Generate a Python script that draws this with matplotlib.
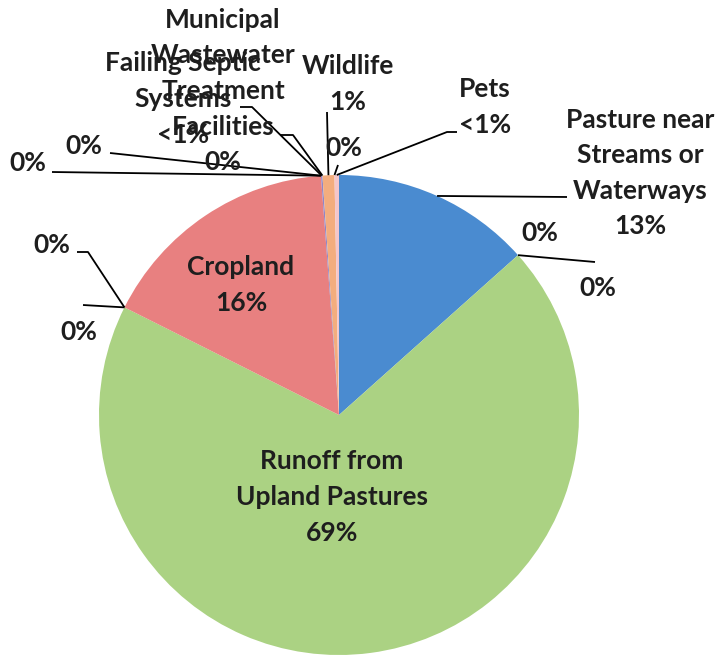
import matplotlib
matplotlib.use("Agg")
import matplotlib.pyplot as plt
import numpy as np

# Source shares (percent), listed clockwise from 12 o'clock
categories = [
    "Pasture near\nStreams or\nWaterways", "", "",
    "Runoff from\nUpland Pastures", "", "",
    "Cropland", "", "",
    "Failing Septic\nSystems",
    "Municipal\nWastewater\nTreatment\nFacilities",
    "Wildlife", "", "Pets",
]
shares = [13.4, 0, 0, 69.0, 0, 0, 16.4, 0, 0, 0.1, 0, 0.8, 0, 0.3]
pct_labels = ["13%", "0%", "0%", "69%", "0%", "0%", "16%", "0%", "0%",
              "<1%", "0%", "1%", "0%", "<1%"]
colors = ["#4A8BD0", "#A5C0E8", "#D0D8A0", "#ABD283", "#E8B0A8", "#C9A0A0",
          "#E88080", "#C0B0D8", "#90C8D8", "#8F86C8", "#F0C090", "#F3AD7E",
          "#B8C8E8", "#F4C6CB"]

W, H = 720, 659
CX, CY, R = 339, 415, 240

def P(x, y):
    """Pixel position measured from the top-left corner -> axes coords."""
    return x, H - y

# label centre and leader elbows (pixels from top-left); None = no leader
layout = [
    ((640, 173), [(567, 197)]),
    ((540, 233), None),
    ((598, 288), [(595, 262)]),
    ((332, 497), None),
    ((52, 245), [(77, 252), (88, 252)]),
    ((79, 332), [(83, 305), (100, 306)]),
    ((241, 285), None),
    ((28, 163), [(52, 172)]),
    ((84, 146), [(110, 153)]),
    ((183, 99), [(240, 107), (252, 107)]),
    ((223, 91), [(280, 135), (293, 135)]),
    ((348, 84), [(327, 112)]),
    ((344, 148), [(338, 165)]),
    ((485, 107), [(457, 132), (447, 132)]),
]

plt.rcParams["font.family"] = ["Lato", "DejaVu Sans"]

fig = plt.figure(figsize=(W / 100, H / 100), dpi=100)
ax = fig.add_axes([0, 0, 1, 1])
ax.set_xlim(0, W)
ax.set_ylim(0, H)
ax.axis("off")

wedges, _ = ax.pie(shares, colors=colors, startangle=90, counterclock=False,
                   center=P(CX, CY), radius=R, normalize=True,
                   wedgeprops=dict(linewidth=0))
ax.set_xlim(0, W)
ax.set_ylim(0, H)
ax.set_aspect("auto")

txt_color = "#1E1E1E"
for name, pct, w, (pos, elbows) in zip(categories, pct_labels, wedges, layout):
    text = f"{name}\n{pct}" if name else pct
    ax.text(*P(*pos), text, ha="center", va="center", multialignment="center",
            fontsize=19, fontweight="bold", color=txt_color, linespacing=1.58,
            zorder=5)
    if elbows:
        mid = np.deg2rad((w.theta1 + w.theta2) / 2)
        ex = w.center[0] + w.r * np.cos(mid)
        ey = w.center[1] + w.r * np.sin(mid)
        pts = [P(*e) for e in elbows] + [(ex, ey)]
        xs, ys = zip(*pts)
        ax.plot(xs, ys, color="black", linewidth=1.3, zorder=4,
                solid_capstyle="butt")

fig.savefig("out.png", dpi=100)
